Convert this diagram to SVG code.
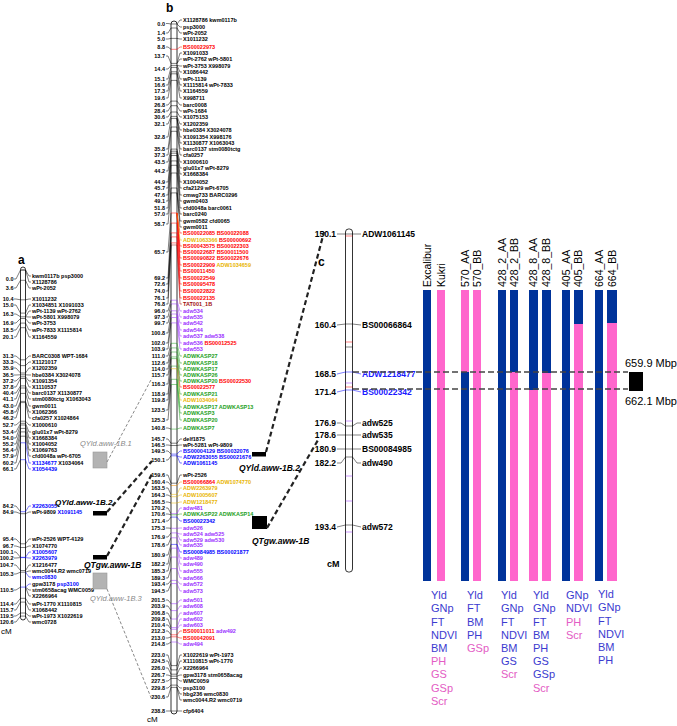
<svg xmlns="http://www.w3.org/2000/svg" width="677" height="726" viewBox="0 0 677 726">
<style>
text{font-family:'Liberation Sans',Arial,sans-serif}
.m{font-weight:bold;font-size:5.5px}
.cm{font-weight:bold;font-size:5.5px;text-anchor:end}
.mc{font-weight:bold;font-size:8.5px}
.cmc{font-weight:bold;font-size:8.5px;text-anchor:end}
.pl{font-weight:bold;font-size:12px}
.hd{font-size:10.5px}
.tr{font-size:11px}
.cn{fill:none;stroke-width:0.5}
.tk{stroke-width:0.9}
.k{stroke:#000}.r{stroke:#f00}.y{stroke:#e8b400}.p{stroke:#9b30ff}.g{stroke:#22a022}.b{stroke:#0000ff}.d{stroke:#a01010}.o{stroke:#f08a00}
.chr{fill:#fff;stroke:#000;stroke-width:0.8}
.qb{stroke:#222;stroke-width:2.2;stroke-dasharray:5 3;fill:none}
.qg{stroke:#888;stroke-width:1;stroke-dasharray:3 2;fill:none}
.cd{stroke:#444;stroke-width:1.5;stroke-dasharray:6 3;fill:none}
.bl{fill:#00339a}.pk{fill:#ff66cc}
.tb{fill:#3b3bcf}.tp{fill:#e35cc4}
</style>
<rect width="677" height="726" fill="#fff"/>

<g id="panel-a">
<text class="pl" x="18" y="264">a</text>
<rect class="chr" x="20.5" y="267" width="5" height="353" rx="2.5"/>
<g class="cm">
<text x="13.5" y="281">0.0</text><text x="13.5" y="290">3.6</text><text x="13.5" y="301">10.4</text><text x="13.5" y="307">15.0</text><text x="13.5" y="316">16.3</text><text x="13.5" y="325">16.9</text><text x="13.5" y="332">18.5</text><text x="13.5" y="339">20.1</text><text x="13.5" y="358">31.3</text><text x="13.5" y="364">33.3</text><text x="13.5" y="370">35.9</text><text x="13.5" y="377">36.5</text><text x="13.5" y="383">37.2</text><text x="13.5" y="389">37.8</text><text x="13.5" y="395">40.4</text><text x="13.5" y="401">41.1</text><text x="13.5" y="408">43.0</text><text x="13.5" y="414">45.8</text><text x="13.5" y="420">46.2</text><text x="13.5" y="427">52.7</text><text x="13.5" y="434">53.4</text><text x="13.5" y="440">54.0</text><text x="13.5" y="446">55.2</text><text x="13.5" y="452">56.4</text><text x="13.5" y="458">57.9</text><text x="13.5" y="465">60.2</text><text x="13.5" y="471">66.1</text><text x="13.5" y="508">84.2</text><text x="13.5" y="514">84.9</text><text x="13.5" y="541">95.4</text><text x="13.5" y="548">96.7</text><text x="13.5" y="554">100.1</text><text x="13.5" y="560">100.2</text><text x="13.5" y="567">104.7</text><text x="13.5" y="576">105.3</text><text x="13.5" y="592">110.5</text><text x="13.5" y="606">114.4</text><text x="13.5" y="612">115.7</text><text x="13.5" y="618">119.5</text><text x="13.5" y="624">120.6</text>
</g>
<g class="m">
<text x="32" y="278">kwm0117b psp3000</text><text x="32" y="284">X1128786</text><text x="32" y="290">wPt-2052</text><text x="32" y="301">X1011232</text><text x="32" y="307">X1034851 X1091033</text><text x="32" y="313">wPt-1139 wPt-2762</text><text x="32" y="319">wPt-5801 X998079</text><text x="32" y="325">wPt-3753</text><text x="32" y="332">wPt-7833 X1115814</text><text x="32" y="339">X1164559</text><text x="32" y="358">BARC0308 WPT-1684</text><text x="32" y="364">X1121017</text><text x="32" y="370">X1202359</text><text x="32" y="377">hbe0384 X3024078</text><text x="32" y="383">X1091354</text><text x="32" y="389">X1110537</text><text x="32" y="395">barc0137 X1130877</text><text x="32" y="401">stm0080tctg X1063043</text><text x="32" y="408">gwm0011</text><text x="32" y="414">X1062366</text><text x="32" y="420">cfa0257 X1024864</text><text x="32" y="427">X1000610</text><text x="32" y="434">glu01x7 wPt-8279</text><text x="32" y="440">X1668384</text><text x="32" y="446">X1004052</text><text x="32" y="452">X1069763</text><text x="32" y="458">cfd0048a wPt-6705</text>
<text x="32" y="465"><tspan fill="#0000ff">X1134677</tspan> X1034064</text><text x="32" y="471" fill="#0000ff">X1054439</text>
<text x="32" y="508" fill="#0000ff">X2263055</text><text x="32" y="514">wPt-9809 <tspan fill="#0000ff">X1091145</tspan></text>
<text x="32" y="541">wPt-2526 WPT-4129</text><text x="32" y="548">X1074770</text><text x="32" y="554" fill="#0000ff">X1005607</text><text x="32" y="560" fill="#0000ff">X2263979</text><text x="32" y="567">X1216477</text><text x="32" y="573">wmc0044.R2 wmc0719</text><text x="32" y="579" fill="#0000ff">wmc0830</text><text x="32" y="586">gpw3178 <tspan fill="#0000ff">psp3100</tspan></text><text x="32" y="592">stm0658acag WMC0059</text><text x="32" y="598">X2266964</text><text x="32" y="606">wPt-1770 X1110815</text><text x="32" y="612">X1068442</text><text x="32" y="618">wPt-1973 X1022619</text><text x="32" y="624">wmc0728</text>
</g>
<text x="1" y="634" font-size="8">cM</text>
</g>

<g id="qtl-a">
<rect id="qyld-1b1" x="93" y="452" width="14" height="16" fill="#b3b3b3" stroke="#999" stroke-width="0.6"/>
<text x="80" y="446" font-size="7.5" font-style="italic" fill="#888">QYld.aww-1B.1</text>
<rect id="qyld-1b2" x="93" y="511" width="14" height="4.5" fill="#000"/>
<text x="55" y="505" font-size="8" font-style="italic" font-weight="bold">QYld.aww-1B.2</text>
<rect id="qtgw-1b" x="93" y="555" width="14" height="4.5" fill="#000"/>
<text x="84" y="568" font-size="8.5" font-style="italic" font-weight="bold">QTgw.aww-1B</text>
<rect id="qyld-1b3" x="93" y="573" width="14" height="16" fill="#b3b3b3" stroke="#999" stroke-width="0.6"/>
<text x="90" y="601" font-size="7.5" font-style="italic" fill="#888">QYld.aww-1B.3</text>
</g>

<g id="panel-b">
<text class="pl" x="166" y="12">b</text>
<rect class="chr" x="171" y="21" width="6" height="693" rx="3"/>
<g class="cm">
<text x="165" y="25.5">0.0</text><text x="165" y="35">1.4</text><text x="165" y="41">5.0</text><text x="165" y="49">8.8</text><text x="165" y="58">13.7</text><text x="165" y="71">14.4</text><text x="165" y="81">15.1</text><text x="165" y="87">16.6</text><text x="165" y="93">17.3</text><text x="165" y="100">19.6</text><text x="165" y="107">26.8</text><text x="165" y="113">28.4</text><text x="165" y="119">30.6</text><text x="165" y="126">32.1</text><text x="165" y="139">32.8</text><text x="165" y="151">35.8</text><text x="165" y="157">37.3</text><text x="165" y="164">43.5</text><text x="165" y="173">44.2</text><text x="165" y="184">44.9</text><text x="165" y="190">45.7</text><text x="165" y="197">47.6</text><text x="165" y="203">49.1</text><text x="165" y="210">51.8</text><text x="165" y="216">57.0</text><text x="165" y="226">58.7</text><text x="165" y="254">65.7</text><text x="165" y="280">69.2</text><text x="165" y="286">72.6</text><text x="165" y="293">74.0</text><text x="165" y="300">76.1</text><text x="165" y="306">76.8</text><text x="165" y="313">96.0</text><text x="165" y="319">97.3</text><text x="165" y="325">99.7</text><text x="165" y="335">100.8</text><text x="165" y="345">102.0</text><text x="165" y="351">103.9</text><text x="165" y="358">111.0</text><text x="165" y="365">112.6</text><text x="165" y="371">114.0</text><text x="165" y="377">115.7</text><text x="165" y="386">116.3</text><text x="165" y="396">118.9</text><text x="165" y="402">119.8</text><text x="165" y="412">123.5</text><text x="165" y="422">125.3</text><text x="165" y="430">140.8</text><text x="165" y="441">145.7</text><text x="165" y="447">146.5</text><text x="165" y="453">149.5</text><text x="165" y="462">150.1</text><text x="165" y="477">159.6</text><text x="165" y="484">160.4</text><text x="165" y="490">163.5</text><text x="165" y="497">164.3</text><text x="165" y="504">166.5</text><text x="165" y="510">170.2</text><text x="165" y="516">170.6</text><text x="165" y="523">171.4</text><text x="165" y="530">175.3</text><text x="165" y="539">176.9</text><text x="165" y="547">178.6</text><text x="165" y="557">180.9</text><text x="165" y="566">182.2</text><text x="165" y="573">185.3</text><text x="165" y="580">189.3</text><text x="165" y="586">193.4</text><text x="165" y="593">194.5</text><text x="165" y="602">201.5</text><text x="165" y="608">203.9</text><text x="165" y="615">206.8</text><text x="165" y="621">209.8</text><text x="165" y="627">210.4</text><text x="165" y="633">212.3</text><text x="165" y="640">213.0</text><text x="165" y="646">214.8</text><text x="165" y="657">223.0</text><text x="165" y="663">224.5</text><text x="165" y="670">226.0</text><text x="165" y="677">226.7</text><text x="165" y="683">227.5</text><text x="165" y="690">229.8</text><text x="165" y="699">230.6</text><text x="165" y="713">238.8</text>
</g>
<g class="m">
<text x="183" y="22">X1128786 kwm0117b</text><text x="183" y="29">psp3000</text><text x="183" y="35">wPt-2052</text><text x="183" y="41">X1011232</text><text x="183" y="49" fill="#f00">BS00022973</text><text x="183" y="55">X1091033</text><text x="183" y="61">wPt-2762 wPt-5801</text><text x="183" y="68">wPt-3753 X998079</text><text x="183" y="74">X1086442</text><text x="183" y="81">wPt-1139</text><text x="183" y="87">X1115814 wPt-7833</text><text x="183" y="93">X1164559</text><text x="183" y="100">X998711</text><text x="183" y="107">barc0008</text><text x="183" y="113">wPt-1684</text><text x="183" y="119">X1075153</text><text x="183" y="126">X1202359</text><text x="183" y="132">hbe0384 X3024078</text><text x="183" y="139">X1091354 X998176</text><text x="183" y="145">X1130877 X1063043</text><text x="183" y="151">barc0137 stm0080tctg</text><text x="183" y="157">cfa0257</text><text x="183" y="164">X1000610</text><text x="183" y="170">glu01x7 wPt-8279</text><text x="183" y="176">X1668384</text><text x="183" y="184">X1004052</text><text x="183" y="190">cfa2129 wPt-6705</text><text x="183" y="197">cmwg733 BARC0296</text><text x="183" y="203">gwm0403</text><text x="183" y="210">cfd0048a barc0061</text><text x="183" y="216">barc0240</text><text x="183" y="223">gwm0582 cfd0065</text><text x="183" y="229">gwm0011</text>
<g fill="#f00">
<text x="183" y="235">BS00022085 BS00022088</text><text x="183" y="242"><tspan fill="#e8b400">ADW1063366</tspan> BS00000692</text><text x="183" y="248">BS00043575 BS00022303</text><text x="183" y="254">BS00022687 BS00011500</text><text x="183" y="260">BS00090822 BS00022676</text><text x="183" y="267">BS00022909 <tspan fill="#e8b400">ADW1034659</tspan></text><text x="183" y="273">BS00011450</text><text x="183" y="280">BS00022549</text><text x="183" y="286">BS00095478</text><text x="183" y="293">BS00022822</text><text x="183" y="300">BS00022135</text>
</g>
<text x="183" y="306" fill="#a01010">TAT001_1B</text>
<g fill="#9b30ff"><text x="183" y="313">adw534</text><text x="183" y="319">adw535</text><text x="183" y="325">adw542</text><text x="183" y="332">adw544</text><text x="183" y="338">adw537 adw538</text><text x="183" y="345">adw536 <tspan fill="#f00">BS00012525</tspan></text><text x="183" y="351">adw553</text></g>
<g fill="#22a022"><text x="183" y="358">ADWKASP27</text><text x="183" y="365">ADWKASP18</text><text x="183" y="371">ADWKASP17</text><text x="183" y="377">ADWKASP26</text><text x="183" y="383">ADWKASP20 <tspan fill="#f00">BS00022530</tspan></text><text x="183" y="389" fill="#f00">BS00022577</text><text x="183" y="396">ADWKASP21</text><text x="183" y="402" fill="#e8b400">ADW1034064</text><text x="183" y="409">ADWKASP17 ADWKASP13</text><text x="183" y="415">ADWKASP3</text><text x="183" y="422">ADWKASP20</text><text x="183" y="430">ADWKASP7</text></g>
<text x="183" y="441">delf1875</text><text x="183" y="447">wPt-5281 wPt-9809</text>
<g fill="#0000ff"><text x="183" y="453">BS00004129 BS00032076</text><text x="183" y="459">ADW2263055 BS00021676</text><text x="183" y="465">ADW1061145</text></g>
<text x="183" y="477">wPt-2526</text><text x="183" y="484"><tspan fill="#f00">BS00066864</tspan> <tspan fill="#e8b400">ADW1074770</tspan></text>
<g fill="#e8b400"><text x="183" y="490">ADW2263979</text><text x="183" y="497">ADW1005607</text><text x="183" y="504">ADW1218477</text></g>
<text x="183" y="510" fill="#9b30ff">adw481</text><text x="183" y="516" fill="#22a022">ADWKASP22 ADWKASP14</text><text x="183" y="523" fill="#0000ff">BS00022342</text>
<g fill="#9b30ff"><text x="183" y="530">adw526</text><text x="183" y="536">adw524 adw525</text><text x="183" y="542">adw529 adw530</text><text x="183" y="547">adw535</text><text x="183" y="554" fill="#0000ff">BS00084985 BS00021877</text><text x="183" y="560">adw489</text><text x="183" y="566">adw490</text><text x="183" y="573">adw555</text><text x="183" y="580">adw566</text><text x="183" y="586">adw572</text><text x="183" y="593">adw573</text><text x="183" y="602">adw501</text><text x="183" y="608">adw608</text><text x="183" y="615">adw607</text><text x="183" y="621">adw602</text><text x="183" y="627">adw603</text><text x="183" y="633"><tspan fill="#f00">BS00011011</tspan> adw492</text><text x="183" y="640" fill="#f00">BS00042091</text><text x="183" y="646">adw494</text></g>
<text x="183" y="657">X1022619 wPt-1973</text><text x="183" y="663">X1110815 wPt-1770</text><text x="183" y="670">X2266964</text><text x="183" y="677">gpw3178 stm0658acag</text><text x="183" y="683">WMC0059</text><text x="183" y="690">psp3100</text><text x="183" y="696">hbg236 wmc0830</text><text x="183" y="702">wmc0044.R2 wmc0719</text><text x="183" y="713">cfp6404</text>
</g>
<text x="147" y="722" font-size="8">cM</text>
</g>

<g id="qtl-b">
<rect id="qyld-1b2-b" x="252" y="452" width="14" height="4.5" fill="#000"/>
<text x="239" y="471" font-size="8.5" font-style="italic" font-weight="bold">QYld.aww-1B.2</text>
<rect id="qtgw-1b-b" x="252" y="516" width="15" height="13" fill="#000"/>
<text x="252" y="544" font-size="8.5" font-style="italic" font-weight="bold">QTgw.aww-1B</text>
</g>

<g id="panel-c">
<text class="pl" x="318" y="266">c</text>
<rect class="chr" x="345.5" y="229" width="7" height="343" rx="3"/>
<g class="cmc">
<text x="336" y="237">150.1</text><text x="336" y="328">160.4</text><text x="336" y="377">168.5</text><text x="336" y="395">171.4</text><text x="336" y="426">176.9</text><text x="336" y="438">178.6</text><text x="336" y="452">180.9</text><text x="336" y="466">182.2</text><text x="336" y="530">193.4</text>
</g>
<g class="mc">
<text x="362" y="237">ADW1061145</text><text x="362" y="328">BS00066864</text><text x="362" y="377" fill="#1a1aff">ADW1218477</text><text x="362" y="395" fill="#1a1aff">BS00022342</text><text x="362" y="426">adw525</text><text x="362" y="438">adw535</text><text x="362" y="452">BS00084985</text><text x="362" y="466">adw490</text><text x="362" y="530">adw572</text>
</g>
<text x="327" y="567" font-size="9" font-weight="bold">cM</text>
</g>

<g id="genotypes">
<g class="hd">
<text transform="translate(430.5,287) rotate(-90)">Excalibur</text>
<text transform="translate(444.5,287) rotate(-90)">Kukri</text>
<text transform="translate(468.5,287) rotate(-90)">570_AA</text>
<text transform="translate(480.5,287) rotate(-90)">570_BB</text>
<text transform="translate(505.5,287) rotate(-90)">428_2_AA</text>
<text transform="translate(517.5,287) rotate(-90)">428_2_BB</text>
<text transform="translate(537,287) rotate(-90)">428_8_AA</text>
<text transform="translate(550,287) rotate(-90)">428_8_BB</text>
<text transform="translate(569.5,287) rotate(-90)">405_AA</text>
<text transform="translate(582,287) rotate(-90)">405_BB</text>
<text transform="translate(602.5,287) rotate(-90)">664_AA</text>
<text transform="translate(615.5,287) rotate(-90)">664_BB</text>
</g>
<rect class="bl" x="423" y="290" width="8" height="291"/>
<rect class="pk" x="437" y="290" width="8" height="291"/>
<rect class="pk" x="461" y="290" width="8" height="82"/><rect class="bl" x="461" y="372" width="8" height="209"/>
<rect class="pk" x="473" y="290" width="8" height="291"/>
<rect class="bl" x="498" y="290" width="8" height="291"/>
<rect class="bl" x="510" y="290" width="8" height="82"/><rect class="pk" x="510" y="372" width="8" height="209"/>
<rect class="bl" x="529" y="290" width="9" height="100"/><rect class="pk" x="529" y="390" width="9" height="191"/>
<rect class="bl" x="542" y="290" width="9" height="83"/><rect class="pk" x="542" y="373" width="9" height="208"/>
<rect class="bl" x="562" y="290" width="8" height="291"/>
<rect class="bl" x="574" y="290" width="9" height="34"/><rect class="pk" x="574" y="324" width="9" height="257"/>
<rect class="bl" x="595" y="290" width="8" height="291"/>
<rect class="bl" x="607" y="290" width="10" height="33"/><rect class="pk" x="607" y="323" width="10" height="258"/>
</g>

<g id="traits" class="tr">
<g class="tb"><text x="431" y="599">Yld</text><text x="431" y="612.3">GNp</text><text x="431" y="625.5">FT</text><text x="431" y="638.7">NDVI</text><text x="431" y="652">BM</text></g>
<g class="tp"><text x="431" y="665.2">PH</text><text x="431" y="678.4">GS</text><text x="431" y="691.6">GSp</text><text x="431" y="704.8">Scr</text></g>
<g class="tb"><text x="467" y="599">Yld</text><text x="467" y="612.3">FT</text><text x="467" y="625.5">BM</text><text x="467" y="638.7">PH</text></g>
<text class="tp" x="467" y="652">GSp</text>
<g class="tb"><text x="501" y="599">Yld</text><text x="501" y="612.3">GNp</text><text x="501" y="625.5">FT</text><text x="501" y="638.7">NDVI</text><text x="501" y="652">BM</text><text x="501" y="665.2">GS</text></g>
<text class="tp" x="501" y="678.4">Scr</text>
<g class="tb"><text x="533" y="599">Yld</text><text x="533" y="612.3">GNp</text><text x="533" y="625.5">FT</text><text x="533" y="638.7">BM</text><text x="533" y="652">PH</text><text x="533" y="665.2">GS</text><text x="533" y="678.4">GSp</text></g>
<text class="tp" x="533" y="691.6">Scr</text>
<g class="tb"><text x="566" y="599">GNp</text><text x="566" y="612.3">NDVI</text></g>
<g class="tp"><text x="566" y="625.5">PH</text><text x="566" y="638.7">Scr</text></g>
<g class="tb"><text x="598" y="598">Yld</text><text x="598" y="611.3">GNp</text><text x="598" y="624.5">FT</text><text x="598" y="637.7">NDVI</text><text x="598" y="651">BM</text><text x="598" y="664.2">PH</text></g>
</g>

<g id="physical">
<rect id="phys-box" x="629" y="372" width="14" height="19" fill="#000"/>
<text x="625" y="367" font-size="11">659.9 Mbp</text>
<text x="625" y="405" font-size="11">662.1 Mbp</text>
</g>

<g id="connectors">
<g class="cn k">
<polyline points="14,279 16,279 20.5,270"/><line class="tk" x1="20.5" y1="270" x2="25.5" y2="270"/><polyline points="25.5,270 29,276 31,276"/><polyline points="25.5,270 29,282 31,282"/>
<polyline points="14,288 16,288 20.5,280.3"/><line x1="20.5" y1="280.3" x2="25.5" y2="280.3"/><polyline points="25.5,280.3 29,288 31,288"/>
<polyline points="14,299 16,299 20.5,299.8"/><line x1="20.5" y1="299.8" x2="25.5" y2="299.8"/><polyline points="25.5,299.8 29,299 31,299"/>
<polyline points="14,305 16,305 20.5,313.1"/><line x1="20.5" y1="313.1" x2="25.5" y2="313.1"/><polyline points="25.5,313.1 29,305 31,305"/>
<polyline points="14,314 16,314 20.5,316.8"/><line x1="20.5" y1="316.8" x2="25.5" y2="316.8"/><polyline points="25.5,316.8 29,311 31,311"/><polyline points="25.5,316.8 29,317 31,317"/>
<polyline points="14,323 16,323 20.5,318.5"/><line x1="20.5" y1="318.5" x2="25.5" y2="318.5"/><polyline points="25.5,318.5 29,323 31,323"/>
<polyline points="14,330 16,330 20.5,323.1"/><line x1="20.5" y1="323.1" x2="25.5" y2="323.1"/><polyline points="25.5,323.1 29,330 31,330"/>
<polyline points="14,337 16,337 20.5,327.7"/><line x1="20.5" y1="327.7" x2="25.5" y2="327.7"/><polyline points="25.5,327.7 29,337 31,337"/>
<polyline points="14,356 16,356 20.5,359.8"/><line x1="20.5" y1="359.8" x2="25.5" y2="359.8"/><polyline points="25.5,359.8 29,356 31,356"/>
<polyline points="14,362 16,362 20.5,365.6"/><line x1="20.5" y1="365.6" x2="25.5" y2="365.6"/><polyline points="25.5,365.6 29,362 31,362"/>
<polyline points="14,368 16,368 20.5,373"/><line x1="20.5" y1="373" x2="25.5" y2="373"/><polyline points="25.5,373 29,368 31,368"/>
<polyline points="14,375 16,375 20.5,374.8"/><line x1="20.5" y1="374.8" x2="25.5" y2="374.8"/><polyline points="25.5,374.8 29,375 31,375"/>
<polyline points="14,381 16,381 20.5,376.8"/><line x1="20.5" y1="376.8" x2="25.5" y2="376.8"/><polyline points="25.5,376.8 29,381 31,381"/>
<polyline points="14,387 16,387 20.5,378.5"/><line x1="20.5" y1="378.5" x2="25.5" y2="378.5"/><polyline points="25.5,378.5 29,387 31,387"/>
<polyline points="14,393 16,393 20.5,385.9"/><line x1="20.5" y1="385.9" x2="25.5" y2="385.9"/><polyline points="25.5,385.9 29,393 31,393"/>
<polyline points="14,399 16,399 20.5,388"/><line x1="20.5" y1="388" x2="25.5" y2="388"/><polyline points="25.5,388 29,399 31,399"/>
<polyline points="14,406 16,406 20.5,393.4"/><line x1="20.5" y1="393.4" x2="25.5" y2="393.4"/><polyline points="25.5,393.4 29,406 31,406"/>
<polyline points="14,412 16,412 20.5,401.4"/><line x1="20.5" y1="401.4" x2="25.5" y2="401.4"/><polyline points="25.5,401.4 29,412 31,412"/>
<polyline points="14,418 16,418 20.5,402.6"/><line x1="20.5" y1="402.6" x2="25.5" y2="402.6"/><polyline points="25.5,402.6 29,418 31,418"/>
<polyline points="14,425 16,425 20.5,421.2"/><line x1="20.5" y1="421.2" x2="25.5" y2="421.2"/><polyline points="25.5,421.2 29,425 31,425"/>
<polyline points="14,432 16,432 20.5,423.3"/><line x1="20.5" y1="423.3" x2="25.5" y2="423.3"/><polyline points="25.5,423.3 29,432 31,432"/>
<polyline points="14,438 16,438 20.5,425"/><line x1="20.5" y1="425" x2="25.5" y2="425"/><polyline points="25.5,425 29,438 31,438"/>
<polyline points="14,444 16,444 20.5,428.4"/><line x1="20.5" y1="428.4" x2="25.5" y2="428.4"/><polyline points="25.5,428.4 29,444 31,444"/>
<polyline points="14,450 16,450 20.5,431.9"/><line x1="20.5" y1="431.9" x2="25.5" y2="431.9"/><polyline points="25.5,431.9 29,450 31,450"/>
<polyline points="14,456 16,456 20.5,436.2"/><line x1="20.5" y1="436.2" x2="25.5" y2="436.2"/><polyline points="25.5,436.2 29,456 31,456"/>
<polyline points="14,463 16,463 20.5,442.8"/>
<polyline points="14,469 16,469 20.5,459.7"/>
<polyline points="14,506 16,506 20.5,511.7"/>
<polyline points="14,512 16,512 20.5,513.7"/><line x1="20.5" y1="513.7" x2="25.5" y2="513.7"/><polyline points="25.5,513.7 29,512 31,512"/>
<polyline points="14,539 16,539 20.5,543.8"/><line x1="20.5" y1="543.8" x2="25.5" y2="543.8"/><polyline points="25.5,543.8 29,539 31,539"/>
<polyline points="14,546 16,546 20.5,547.5"/><line x1="20.5" y1="547.5" x2="25.5" y2="547.5"/><polyline points="25.5,547.5 29,546 31,546"/>
<polyline points="14,552 16,552 20.5,557.3"/>
<polyline points="14,558 16,558 20.5,557.6"/>
<polyline points="14,565 16,565 20.5,570.5"/><line x1="20.5" y1="570.5" x2="25.5" y2="570.5"/><polyline points="25.5,570.5 29,565 31,565"/>
<polyline points="14,574 16,574 20.5,572.2"/><line x1="20.5" y1="572.2" x2="25.5" y2="572.2"/><polyline points="25.5,572.2 29,571 31,571"/>
<polyline points="14,590 16,590 20.5,587.1"/><polyline points="25.5,587.1 29,590 31,590"/><polyline points="25.5,587.1 29,596 31,596"/>
<polyline points="14,604 16,604 20.5,598.3"/><line x1="20.5" y1="598.3" x2="25.5" y2="598.3"/><polyline points="25.5,598.3 29,604 31,604"/>
<polyline points="14,610 16,610 20.5,602.1"/><line x1="20.5" y1="602.1" x2="25.5" y2="602.1"/><polyline points="25.5,602.1 29,610 31,610"/>
<polyline points="14,616 16,616 20.5,613"/><line x1="20.5" y1="613" x2="25.5" y2="613"/><polyline points="25.5,613 29,616 31,616"/>
<polyline points="14,622 16,622 20.5,616.1"/><line x1="20.5" y1="616.1" x2="25.5" y2="616.1"/><polyline points="25.5,616.1 29,622 31,622"/>
</g>
<g class="cn b">
<line x1="20.5" y1="442.8" x2="25.5" y2="442.8"/><polyline points="25.5,442.8 29,463 31,463"/>
<line x1="20.5" y1="459.7" x2="25.5" y2="459.7"/><polyline points="25.5,459.7 29,469 31,469"/>
<line x1="20.5" y1="511.7" x2="25.5" y2="511.7"/><polyline points="25.5,511.7 29,506 31,506"/>
<line x1="20.5" y1="557.3" x2="25.5" y2="557.3"/><polyline points="25.5,557.3 29,552 31,552"/>
<line x1="20.5" y1="557.6" x2="25.5" y2="557.6"/><polyline points="25.5,557.6 29,558 31,558"/>
<polyline points="25.5,572.2 29,577 31,577"/>
<line x1="20.5" y1="587.1" x2="25.5" y2="587.1"/><polyline points="25.5,587.1 29,584 31,584"/>
</g>

<g class="cn k">
<polyline points="166,23.5 168,23.5 171,24"/><polyline points="166,33 168,33 171,28"/><polyline points="166,39 168,39 171,38.4"/><polyline points="166,47 168,47 171,49.3"/><polyline points="166,56 168,56 171,63.4"/><polyline points="166,69 168,69 171,65.4"/><polyline points="166,79 168,79 171,67.4"/><polyline points="166,85 168,85 171,71.8"/><polyline points="166,91 168,91 171,73.8"/><polyline points="166,98 168,98 171,80.4"/><polyline points="166,105 168,105 171,101.1"/><polyline points="166,111 168,111 171,105.7"/><polyline points="166,117 168,117 171,112"/><polyline points="166,124 168,124 171,116.4"/><polyline points="166,137 168,137 171,118.4"/><polyline points="166,149 168,149 171,127"/><polyline points="166,155 168,155 171,131.3"/><polyline points="166,162 168,162 171,149.1"/><polyline points="166,171 168,171 171,151.2"/><polyline points="166,182 168,182 171,153.2"/><polyline points="166,188 168,188 171,155.5"/><polyline points="166,195 168,195 171,160.9"/><polyline points="166,201 168,201 171,165.3"/><polyline points="166,208 168,208 171,173"/><polyline points="166,214 168,214 171,188"/><polyline points="166,224 168,224 171,192.9"/><polyline points="166,252 168,252 171,213"/><polyline points="166,278 168,278 171,223.1"/><polyline points="166,284 168,284 171,232.9"/><polyline points="166,291 168,291 171,236.9"/><polyline points="166,298 168,298 171,242.9"/><polyline points="166,304 168,304 171,245"/><polyline points="166,311 168,311 171,300.2"/><polyline points="166,317 168,317 171,303.9"/><polyline points="166,323 168,323 171,310.8"/><polyline points="166,333 168,333 171,314"/><polyline points="166,343 168,343 171,317.5"/><polyline points="166,349 168,349 171,322.9"/><polyline points="166,356 168,356 171,343.3"/><polyline points="166,363 168,363 171,347.9"/><polyline points="166,369 168,369 171,352"/><polyline points="166,375 168,375 171,356.9"/><polyline points="166,384 168,384 171,358.6"/><polyline points="166,394 168,394 171,366.1"/><polyline points="166,400 168,400 171,368.7"/><polyline points="166,410 168,410 171,379.3"/><polyline points="166,420 168,420 171,384.5"/><polyline points="166,428 168,428 171,429.1"/><polyline points="166,439 168,439 171,443.2"/><polyline points="166,445 168,445 171,445.5"/><polyline points="166,451 168,451 171,454.1"/><polyline points="166,460 168,460 171,455.8"/><polyline points="166,475 168,475 171,483.2"/><polyline points="166,482 168,482 171,485.5"/><polyline points="166,488 168,488 171,494.4"/><polyline points="166,495 168,495 171,496.7"/><polyline points="166,502 168,502 171,503"/><polyline points="166,508 168,508 171,513.7"/><polyline points="166,514 168,514 171,514.8"/><polyline points="166,521 168,521 171,517.1"/><polyline points="166,528 168,528 171,528.3"/><polyline points="166,537 168,537 171,532.9"/><polyline points="166,545 168,545 171,537.8"/><polyline points="166,555 168,555 171,544.4"/><polyline points="166,564 168,564 171,548.2"/><polyline points="166,571 168,571 171,557.1"/><polyline points="166,578 168,578 171,568.6"/><polyline points="166,584 168,584 171,580.4"/><polyline points="166,591 168,591 171,583.6"/><polyline points="166,600 168,600 171,603.7"/><polyline points="166,606 168,606 171,610.6"/><polyline points="166,613 168,613 171,619"/><polyline points="166,619 168,619 171,627.6"/><polyline points="166,625 168,625 171,629.3"/><polyline points="166,631 168,631 171,634.8"/><polyline points="166,638 168,638 171,636.8"/><polyline points="166,644 168,644 171,642"/><polyline points="166,655 168,655 171,665.6"/><polyline points="166,661 168,661 171,669.9"/><polyline points="166,668 168,668 171,674.2"/><polyline points="166,675 168,675 171,676.2"/><polyline points="166,681 168,681 171,678.5"/><polyline points="166,688 168,688 171,685.1"/><polyline points="166,697 168,697 171,687.4"/><polyline points="166,711 168,711 171,711"/>
</g>
<g class="cn k">
<line x1="171" y1="24" x2="177" y2="24"/><polyline points="177,24 180,20 182,20"/><polyline points="177,24 180,27 182,27"/>
<line x1="171" y1="28" x2="177" y2="28"/><polyline points="177,28 180,33 182,33"/>
<line x1="171" y1="38.4" x2="177" y2="38.4"/><polyline points="177,38.4 180,39 182,39"/>
<line x1="171" y1="63.4" x2="177" y2="63.4"/><polyline points="177,63.4 180,53 182,53"/><polyline points="177,63.4 180,59 182,59"/>
<line x1="171" y1="65.4" x2="177" y2="65.4"/><polyline points="177,65.4 180,66 182,66"/><polyline points="177,65.4 180,72 182,72"/>
<line x1="171" y1="67.4" x2="177" y2="67.4"/><polyline points="177,67.4 180,79 182,79"/>
<line x1="171" y1="71.8" x2="177" y2="71.8"/><polyline points="177,71.8 180,85 182,85"/>
<line x1="171" y1="73.8" x2="177" y2="73.8"/><polyline points="177,73.8 180,91 182,91"/>
<line x1="171" y1="80.4" x2="177" y2="80.4"/><polyline points="177,80.4 180,98 182,98"/>
<line x1="171" y1="101.1" x2="177" y2="101.1"/><polyline points="177,101.1 180,105 182,105"/>
<line x1="171" y1="105.7" x2="177" y2="105.7"/><polyline points="177,105.7 180,111 182,111"/>
<line x1="171" y1="112" x2="177" y2="112"/><polyline points="177,112 180,117 182,117"/>
<line x1="171" y1="116.4" x2="177" y2="116.4"/><polyline points="177,116.4 180,124 182,124"/>
<line x1="171" y1="118.4" x2="177" y2="118.4"/><polyline points="177,118.4 180,130 182,130"/><polyline points="177,118.4 180,137 182,137"/><polyline points="177,118.4 180,143 182,143"/>
<line x1="171" y1="127" x2="177" y2="127"/><polyline points="177,127 180,149 182,149"/>
<line x1="171" y1="131.3" x2="177" y2="131.3"/><polyline points="177,131.3 180,155 182,155"/>
<line x1="171" y1="149.1" x2="177" y2="149.1"/><polyline points="177,149.1 180,162 182,162"/>
<line x1="171" y1="151.2" x2="177" y2="151.2"/><polyline points="177,151.2 180,168 182,168"/><polyline points="177,151.2 180,174 182,174"/>
<line x1="171" y1="153.2" x2="177" y2="153.2"/><polyline points="177,153.2 180,182 182,182"/>
<line x1="171" y1="155.5" x2="177" y2="155.5"/><polyline points="177,155.5 180,188 182,188"/>
<line x1="171" y1="160.9" x2="177" y2="160.9"/><polyline points="177,160.9 180,195 182,195"/>
<line x1="171" y1="165.3" x2="177" y2="165.3"/><polyline points="177,165.3 180,201 182,201"/>
<line x1="171" y1="173" x2="177" y2="173"/><polyline points="177,173 180,208 182,208"/>
<line x1="171" y1="188" x2="177" y2="188"/><polyline points="177,188 180,214 182,214"/>
<line x1="171" y1="192.9" x2="177" y2="192.9"/><polyline points="177,192.9 180,221 182,221"/><polyline points="177,192.9 180,227 182,227"/>
<line x1="171" y1="443.2" x2="177" y2="443.2"/><polyline points="177,443.2 180,439 182,439"/>
<line x1="171" y1="445.5" x2="177" y2="445.5"/><polyline points="177,445.5 180,445 182,445"/>
<line x1="171" y1="483.2" x2="177" y2="483.2"/><polyline points="177,483.2 180,475 182,475"/>
<line x1="171" y1="665.6" x2="177" y2="665.6"/><polyline points="177,665.6 180,655 182,655"/>
<line x1="171" y1="669.9" x2="177" y2="669.9"/><polyline points="177,669.9 180,661 182,661"/>
<line x1="171" y1="674.2" x2="177" y2="674.2"/><polyline points="177,674.2 180,668 182,668"/>
<line x1="171" y1="676.2" x2="177" y2="676.2"/><polyline points="177,676.2 180,675 182,675"/>
<line x1="171" y1="678.5" x2="177" y2="678.5"/><polyline points="177,678.5 180,681 182,681"/>
<line x1="171" y1="685.1" x2="177" y2="685.1"/><polyline points="177,685.1 180,688 182,688"/>
<line x1="171" y1="687.4" x2="177" y2="687.4"/><polyline points="177,687.4 180,694 182,694"/><polyline points="177,687.4 180,700 182,700"/>
<line x1="171" y1="711" x2="177" y2="711"/><polyline points="177,711 180,711 182,711"/>
</g>
<g class="cn r">
<line x1="171" y1="49.3" x2="177" y2="49.3"/><polyline points="177,49.3 180,47 182,47"/>
<line x1="171" y1="213" x2="177" y2="213"/><polyline points="177,213 180,233 182,233"/><polyline points="177,213 180,246 182,246"/><polyline points="177,213 180,252 182,252"/><polyline points="177,213 180,258 182,258"/><polyline points="177,213 180,265 182,265"/><polyline points="177,213 180,271 182,271"/>
<line x1="171" y1="223.1" x2="177" y2="223.1"/><polyline points="177,223.1 180,278 182,278"/>
<line x1="171" y1="232.9" x2="177" y2="232.9"/><polyline points="177,232.9 180,284 182,284"/>
<line x1="171" y1="236.9" x2="177" y2="236.9"/><polyline points="177,236.9 180,291 182,291"/>
<line x1="171" y1="242.9" x2="177" y2="242.9"/><polyline points="177,242.9 180,298 182,298"/>
<polyline points="177,358.6 180,387 182,387"/>
<line x1="171" y1="634.8" x2="177" y2="634.8"/><polyline points="177,634.8 180,631 182,631"/>
<line x1="171" y1="636.8" x2="177" y2="636.8"/><polyline points="177,636.8 180,638 182,638"/>
</g>
<g class="cn y">
<polyline points="177,213 180,240 182,240"/>
<line x1="171" y1="368.7" x2="177" y2="368.7"/><polyline points="177,368.7 180,400 182,400"/>
<line x1="171" y1="494.4" x2="177" y2="494.4"/><polyline points="177,494.4 180,488 182,488"/>
<line x1="171" y1="496.7" x2="177" y2="496.7"/><polyline points="177,496.7 180,495 182,495"/>
<line x1="171" y1="503" x2="177" y2="503"/><polyline points="177,503 180,502 182,502"/>
</g>
<g class="cn o"><line x1="171" y1="485.5" x2="177" y2="485.5"/><polyline points="177,485.5 180,482 182,482"/></g>
<g class="cn d"><line x1="171" y1="245" x2="177" y2="245"/><polyline points="177,245 180,304 182,304"/></g>
<g class="cn p">
<line x1="171" y1="300.2" x2="177" y2="300.2"/><polyline points="177,300.2 180,311 182,311"/>
<line x1="171" y1="303.9" x2="177" y2="303.9"/><polyline points="177,303.9 180,317 182,317"/>
<line x1="171" y1="310.8" x2="177" y2="310.8"/><polyline points="177,310.8 180,323 182,323"/>
<line x1="171" y1="314" x2="177" y2="314"/><polyline points="177,314 180,330 182,330"/><polyline points="177,314 180,336 182,336"/>
<line x1="171" y1="317.5" x2="177" y2="317.5"/><polyline points="177,317.5 180,343 182,343"/>
<line x1="171" y1="322.9" x2="177" y2="322.9"/><polyline points="177,322.9 180,349 182,349"/>
<line x1="171" y1="513.7" x2="177" y2="513.7"/><polyline points="177,513.7 180,508 182,508"/>
<line x1="171" y1="528.3" x2="177" y2="528.3"/><polyline points="177,528.3 180,528 182,528"/>
<line x1="171" y1="532.9" x2="177" y2="532.9"/><polyline points="177,532.9 180,534 182,534"/><polyline points="177,532.9 180,540 182,540"/>
<line x1="171" y1="537.8" x2="177" y2="537.8"/><polyline points="177,537.8 180,545 182,545"/>
<polyline points="177,544.4 180,558 182,558"/>
<line x1="171" y1="548.2" x2="177" y2="548.2"/><polyline points="177,548.2 180,564 182,564"/>
<line x1="171" y1="557.1" x2="177" y2="557.1"/><polyline points="177,557.1 180,571 182,571"/>
<line x1="171" y1="568.6" x2="177" y2="568.6"/><polyline points="177,568.6 180,578 182,578"/>
<line x1="171" y1="580.4" x2="177" y2="580.4"/><polyline points="177,580.4 180,584 182,584"/>
<line x1="171" y1="583.6" x2="177" y2="583.6"/><polyline points="177,583.6 180,591 182,591"/>
<line x1="171" y1="603.7" x2="177" y2="603.7"/><polyline points="177,603.7 180,600 182,600"/>
<line x1="171" y1="610.6" x2="177" y2="610.6"/><polyline points="177,610.6 180,606 182,606"/>
<line x1="171" y1="619" x2="177" y2="619"/><polyline points="177,619 180,613 182,613"/>
<line x1="171" y1="627.6" x2="177" y2="627.6"/><polyline points="177,627.6 180,619 182,619"/>
<line x1="171" y1="629.3" x2="177" y2="629.3"/><polyline points="177,629.3 180,625 182,625"/>
<line x1="171" y1="642" x2="177" y2="642"/><polyline points="177,642 180,644 182,644"/>
</g>
<g class="cn g">
<line x1="171" y1="343.3" x2="177" y2="343.3"/><polyline points="177,343.3 180,356 182,356"/>
<line x1="171" y1="347.9" x2="177" y2="347.9"/><polyline points="177,347.9 180,363 182,363"/>
<line x1="171" y1="352" x2="177" y2="352"/><polyline points="177,352 180,369 182,369"/>
<line x1="171" y1="356.9" x2="177" y2="356.9"/><polyline points="177,356.9 180,375 182,375"/>
<line x1="171" y1="358.6" x2="177" y2="358.6"/><polyline points="177,358.6 180,381 182,381"/>
<line x1="171" y1="366.1" x2="177" y2="366.1"/><polyline points="177,366.1 180,394 182,394"/>
<line x1="171" y1="379.3" x2="177" y2="379.3"/><polyline points="177,379.3 180,407 182,407"/><polyline points="177,379.3 180,413 182,413"/>
<line x1="171" y1="384.5" x2="177" y2="384.5"/><polyline points="177,384.5 180,420 182,420"/>
<line x1="171" y1="429.1" x2="177" y2="429.1"/><polyline points="177,429.1 180,428 182,428"/>
<line x1="171" y1="514.8" x2="177" y2="514.8"/><polyline points="177,514.8 180,514 182,514"/>
</g>
<g class="cn b">
<line x1="171" y1="454.1" x2="177" y2="454.1"/><polyline points="177,454.1 180,451 182,451"/>
<line x1="171" y1="455.8" x2="177" y2="455.8"/><polyline points="177,455.8 180,457 182,457"/><polyline points="177,455.8 180,463 182,463"/>
<line x1="171" y1="517.1" x2="177" y2="517.1"/><polyline points="177,517.1 180,521 182,521"/>
<line x1="171" y1="544.4" x2="177" y2="544.4"/><polyline points="177,544.4 180,552 182,552"/>
</g>

<g class="cn k" stroke-width="0.9">
<polyline points="337,234 345.5,234"/><line x1="345.5" y1="234" x2="352.5" y2="234"/><polyline points="352.5,234 361,234"/>
<polyline points="337,325 345.5,324"/><line x1="345.5" y1="324" x2="352.5" y2="324"/><polyline points="352.5,324 361,325"/>
<polyline points="337,423 341,423 345.5,426"/><line x1="345.5" y1="426" x2="352.5" y2="426"/><polyline points="352.5,426 357,423 361,423"/>
<polyline points="337,435 345.5,435"/><line x1="345.5" y1="435" x2="352.5" y2="435"/><polyline points="352.5,435 361,435"/>
<polyline points="337,449 345.5,449"/><line x1="345.5" y1="449" x2="352.5" y2="449"/><polyline points="352.5,449 361,449"/>
<polyline points="337,463 341,463 345.5,457"/><line x1="345.5" y1="457" x2="352.5" y2="457"/><polyline points="352.5,457 357,463 361,463"/>
<polyline points="337,527 345.5,525"/><line x1="345.5" y1="525" x2="352.5" y2="525"/><polyline points="352.5,525 361,527"/>
<line x1="345.5" y1="347" x2="352.5" y2="347"/>
</g>
<g class="cn b" stroke-width="1"><polyline points="337,374 345.5,372 352.5,372 361,374"/><polyline points="337,392 345.5,390 352.5,390 361,392"/></g>
<g class="cn r" stroke-width="1"><line x1="345.5" y1="236" x2="352.5" y2="236"/><line x1="345.5" y1="342" x2="352.5" y2="342"/><line x1="345.5" y1="387" x2="352.5" y2="387"/></g>
<g class="cn p" stroke-width="1"><line x1="345.5" y1="383" x2="352.5" y2="383"/><line x1="345.5" y1="421" x2="352.5" y2="421"/><line x1="345.5" y1="476" x2="352.5" y2="476"/><line x1="345.5" y1="501" x2="352.5" y2="501"/><line x1="345.5" y1="532" x2="352.5" y2="532"/></g>

<path class="qg" d="M107,462 L152,378"/>
<path class="qb" d="M107,512 L152,461"/>
<path class="qb" d="M107,556 L152,474"/>
<path class="qg" d="M107,589 L152,700"/>
<path class="qb" d="M266,452 L324,232"/>
<path class="qb" d="M267,528 L318,440"/>
<path class="cd" d="M353,372 L628,372"/>
<path class="cd" d="M353,389 L628,389"/>
</g>
</svg>
